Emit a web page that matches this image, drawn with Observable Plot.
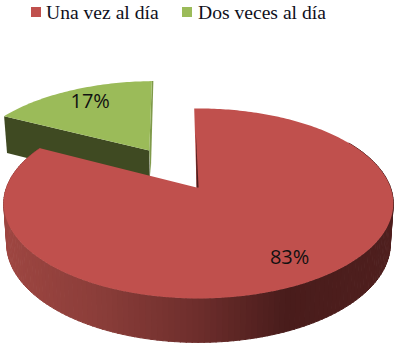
<!DOCTYPE html>
<html>
<head>
<meta charset="utf-8">
<script src="https://cdn.jsdelivr.net/npm/d3@7"></script>
<script src="https://cdn.jsdelivr.net/npm/@observablehq/plot@0.6"></script>
<style>
html,body{margin:0;padding:0;background:#fff;overflow:hidden}
#legend{position:relative;height:26px;font-family:"Liberation Serif",serif;font-size:19.6px;color:#10101c}
.sw{position:absolute;top:7px;width:10px;height:10px}
.lb{position:absolute;top:0;line-height:25px;white-space:nowrap}
svg{display:block}
</style>
</head>
<body>
<div id="legend"></div>
<div id="chart"></div>
<script>
// Data
const categories = ["Una vez al día", "Dos veces al día"];
const percents = [83, 17];
const topColors = ["#C0504D", "#9BBB59"];

// Drawing of the tilted pie: a plane disc seen in perspective
const W = 398, H = 347, legendH = 26;
const cx = 198, cy = 187, ax = 192, ay = 92.3, persp = 0.168;
const rotation = -1.5;                       // degrees
const explode = [[0, 0], [-0.275, -0.43]];   // slice offset on the disc
const labelNudge = [-1, 5];
const rad = Math.PI / 180;

function project(u, v) {
  const w = 1 - persp * v;
  return {sx: cx + ax * u / w, sy: cy + ay * v / w, w};
}
function rim(i, deg) {
  const a = (deg + rotation) * rad;
  return project(explode[i][0] + Math.sin(a), explode[i][1] - Math.cos(a));
}
function drop(p) {           // lower face of the disc
  return {sx: cx + (p.sx - cx) * 0.985, sy: p.sy + 18.7 + 21 / p.w};
}

// Slice angles from the percentages (red starts at the top, clockwise)
let total = d3.sum(percents), acc = 0;
const slices = percents.map((p, i) => {
  const s = {i, name: categories[i], pct: p, a0: acc / total * 360, a1: (acc + p) / total * 360};
  acc += p;
  return s;
});
const arc = (s, step = 1) => {
  const a = d3.range(s.a0, s.a1, step);
  a.push(s.a1);
  return a;
};

// Top faces
function topFace(s) {
  const apex = project(explode[s.i][0] + (s.i === 0 ? -0.01 : 0), explode[s.i][1]);
  return [apex, ...arc(s).map(d => rim(s.i, d))].map(p => ({x: p.sx, y: p.sy}));
}

// Green wall: straight side in front of the green slice
const g = slices[1];
const gApex = project(explode[1][0], explode[1][1]);
const gLeft = rim(1, g.a0);
const greenWall = [gLeft, gApex, drop(gApex), drop(gLeft)].map(p => ({x: p.sx, y: p.sy}));

// Red outer wall: thin strips shaded by their horizontal position
const shade = d3.scaleLinear()
  .domain([5, 100, 195, 285, 395])
  .range(["#9E4641", "#8A3D39", "#6E2E2C", "#491C1B", "#4F1F1E"])
  .clamp(true);
const wallRows = [];
d3.range(60, 298, 1.5).forEach((d, k) => {
  const p = rim(0, d), q = rim(0, d + 1.7);
  const color = shade((p.sx + q.sx) / 2);
  [p, q, drop(q), drop(p)].forEach(c => wallRows.push({x: c.sx, y: c.sy, z: k, color}));
});

// Thin visible cut edges
const rApex = project(explode[0][0] - 0.01, 0);
const rTop = rim(0, 0.4);
const redCut = [{x: rTop.sx + 0.5, y: rTop.sy + 25}, {x: rApex.sx, y: rApex.sy}, {x: rApex.sx + 2, y: rApex.sy}];
const gEnd = rim(1, 360);
const greenCut = [{x: gEnd.sx, y: gEnd.sy}, {x: gApex.sx, y: gApex.sy}, {x: gApex.sx + 1.5, y: gApex.sy + 25}, {x: gEnd.sx + 1.5, y: gEnd.sy}];

// Labels on the disc
const labels = slices.map(s => {
  const a = ((s.a0 + s.a1) / 2 + rotation) * rad, k = 0.8;
  const p = project(explode[s.i][0] + k * Math.sin(a), explode[s.i][1] - k * Math.cos(a));
  return {x: p.sx + labelNudge[s.i], y: p.sy, t: s.pct + "%"};
});

const face = (rows, fill) => Plot.line(rows, {x: "x", y: "y", fill, stroke: "none", curve: "linear"});

const plot = Plot.plot({
  width: W,
  height: H - legendH,
  margin: 0,
  style: {background: "#fff"},
  x: {domain: [0, W], range: [0, W], axis: null},
  y: {domain: [legendH, H], range: [0, H - legendH], axis: null},
  color: {type: "identity"},
  marks: [
    face(greenWall, "#3F4A22"),
    face(greenCut, "#7F9A4A"),
    face(topFace(slices[1]), topColors[1]),
    Plot.line(wallRows, {x: "x", y: "y", z: "z", fill: "color", stroke: "color", strokeWidth: 1, curve: "linear"}),
    face(topFace(slices[0]), topColors[0]),
    face(redCut, "#4A1C1B"),
    Plot.text(labels, {x: "x", y: "y", text: "t", fill: "#111", fontSize: 20, fontFamily: "Open Sans, sans-serif"})
  ]
});
document.getElementById("chart").append(plot);

// Legend above the chart
const legend = document.getElementById("legend");
const swatchX = [31, 182], labelX = [46, 198];
categories.forEach((c, i) => {
  const s = document.createElement("span");
  s.className = "sw"; s.style.left = swatchX[i] + "px"; s.style.background = topColors[i];
  const l = document.createElement("span");
  l.className = "lb"; l.style.left = labelX[i] + "px"; l.textContent = c;
  legend.append(s, l);
});
</script>
</body>
</html>
